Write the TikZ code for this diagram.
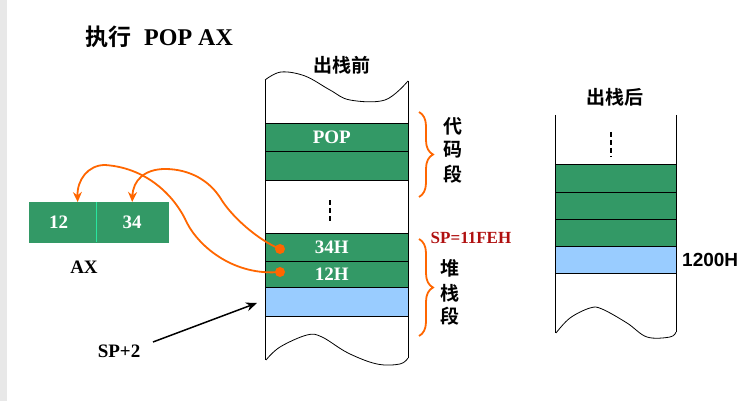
\documentclass[tikz,border=0pt]{standalone}
\usepackage{fontspec}
\setmainfont{Liberation Serif}
\newfontfamily\cjk{Noto Sans CJK SC}[BoldFont={Noto Sans CJK SC Bold}]
\newfontfamily\arialf{Liberation Sans}
\usetikzlibrary{arrows.meta,decorations.pathreplacing}
\definecolor{cellgreen}{RGB}{51,153,102}
\definecolor{cellblue}{RGB}{153,204,255}
\definecolor{pathorange}{RGB}{255,102,0}
\definecolor{spred}{RGB}{176,16,16}
\definecolor{mint}{RGB}{40,230,160}
\definecolor{edgegray}{RGB}{232,232,232}
\begin{document}
\begin{tikzpicture}[x=1pt,y=-1pt,
  cellbox/.style={draw=black,line width=0.7pt,anchor=north west,inner sep=0pt,text=white,
    font=\bfseries\fontsize{19}{19}\selectfont},
  gcell/.style={cellbox,fill=cellgreen},
  bcell/.style={cellbox,fill=cellblue},
  axcell/.style={fill=cellgreen,draw=cellgreen,anchor=north west,inner sep=0pt,text=white,
    minimum height=40pt,font=\bfseries\fontsize{19}{19}\selectfont},
  stackline/.style={black,line width=0.8pt},
  omark/.style={circle,fill=pathorange,inner sep=0pt,minimum size=10pt},
  oline/.style={pathorange,line width=1.8pt,-{Stealth[length=10pt,width=9pt]}},
  obrace/.style={pathorange,line width=1.8pt,decorate,decoration={brace,amplitude=14pt}},
  dotsline/.style={black,line width=2.2pt,dash pattern=on 5pt off 3pt},
  lbl/.style={inner sep=0pt,font=\bfseries\fontsize{19}{19}\selectfont},
  cjklbl/.style={inner sep=0pt,font=\cjk\bfseries\fontsize{19}{19}\selectfont},
]
\useasboundingbox (0,0) rectangle (755,401);
\fill[edgegray] (0,0) rectangle (7,401);

% title
\node[anchor=west,inner sep=0pt,font=\bfseries\fontsize{24}{24}\selectfont] (title) at (85,37)
  {{\cjk\bfseries\fontsize{23}{23}\selectfont 执行}\hspace{13pt}POP AX};

% ---------- left stack (before pop) ----------
\node[cjklbl] (before) at (342,65) {出栈前};
\draw[stackline] (265,80) -- (265,360);
\draw[stackline] (408,81) -- (408,358);
\draw[stackline] plot[smooth,tension=0.6] coordinates {(265,80) (281,72) (305,76) (330,90) (350,100) (385,100) (408,81)};
\draw[stackline] plot[smooth,tension=0.6] coordinates {(266,360) (280,347) (307,335) (322,337) (348,353) (377,364) (400,364) (408,358)};

\node[gcell,minimum width=143pt,minimum height=28pt] (pop) at (265,123) {\hspace*{-10pt}POP};
\node[gcell,minimum width=143pt,minimum height=29pt] (code2) at (265,151) {};
\node[gcell,minimum width=143pt,minimum height=28pt] (h34) at (265,233) {\hspace*{-10pt}34H};
\node[gcell,minimum width=143pt,minimum height=26pt] (h12) at (265,261) {\hspace*{-10pt}12H};
\node[bcell,minimum width=143pt,minimum height=29pt] (sblue) at (265,287) {};
\draw[dotsline] (330,200) -- (330,223);

% braces and labels
\draw[obrace] (419,112) -- (419,197);
\draw[obrace] (419,239) -- (419,336);
\node[cjklbl] (c1) at (453,126) {代};
\node[cjklbl] (c2) at (453,150) {码};
\node[cjklbl] (c3) at (453,174) {段};
\node[cjklbl] (s1) at (450,268) {堆};
\node[cjklbl] (s2) at (450,293) {栈};
\node[cjklbl] (s3) at (450,316) {段};
\node[inner sep=0pt,text=spred,font=\bfseries\fontsize{17}{17}\selectfont] (spval) at (471,238) {SP=11FEH};

% ---------- AX register ----------
\node[axcell,minimum width=67pt] (c12) at (29,202) {\hspace*{-8pt}12};
\node[axcell,minimum width=72pt] (c34) at (96,202) {34};
\draw[mint,line width=1.5pt] (c12.north east) -- (c12.south east);
\node[lbl] (ax) at (84,267) {AX};

% orange marks and transfer arrows
\node[omark] (d34) at (280,249) {};
\node[omark] (d12) at (280,272) {};
\draw[oline] (d34.center) .. controls (258,240) and (232,217) .. (221,199)
  .. controls (210,181) and (190,169) .. (165,169)
  .. controls (145,169) and (133,180) .. (c34.north);
\draw[oline] (d12.center) .. controls (235,276) and (200,248) .. (187,223)
  .. controls (177,200) and (150,168) .. (105,165)
  .. controls (88,165) and (77,180) .. ([xshift=15pt]c12.north);

% SP+2 pointer
\node[lbl] (sp2) at (119,351) {SP+2};
\coordinate (spfrom) at (153,342);
\coordinate (spto) at (257,303);
\draw[black,line width=1.5pt,-{Stealth[length=11pt,width=9pt]}] (spfrom) -- (spto);

% ---------- right stack (after pop) ----------
\node[cjklbl] (after) at (615,97) {出栈后};
\draw[stackline] (555,115) -- (555,333);
\draw[stackline] (676,115) -- (676,332);
\draw[stackline] plot[smooth,tension=0.6] coordinates {(556,333) (570,318) (590,308) (602,309) (627,323) (647,337) (670,337) (676,332)};
\draw[dotsline] (611,132) -- (611,157);
\node[gcell,minimum width=121pt,minimum height=28pt] (r1) at (555,164) {};
\node[gcell,minimum width=121pt,minimum height=27pt] (r2) at (555,192) {};
\node[gcell,minimum width=121pt,minimum height=27pt] (r3) at (555,219) {};
\node[bcell,minimum width=121pt,minimum height=27pt] (r4) at (555,246) {};
\node[anchor=west,inner sep=0pt,font=\arialf\bfseries\fontsize{19}{19}\selectfont] (addr) at (682,260) {1200H};
\end{tikzpicture}
\end{document}
